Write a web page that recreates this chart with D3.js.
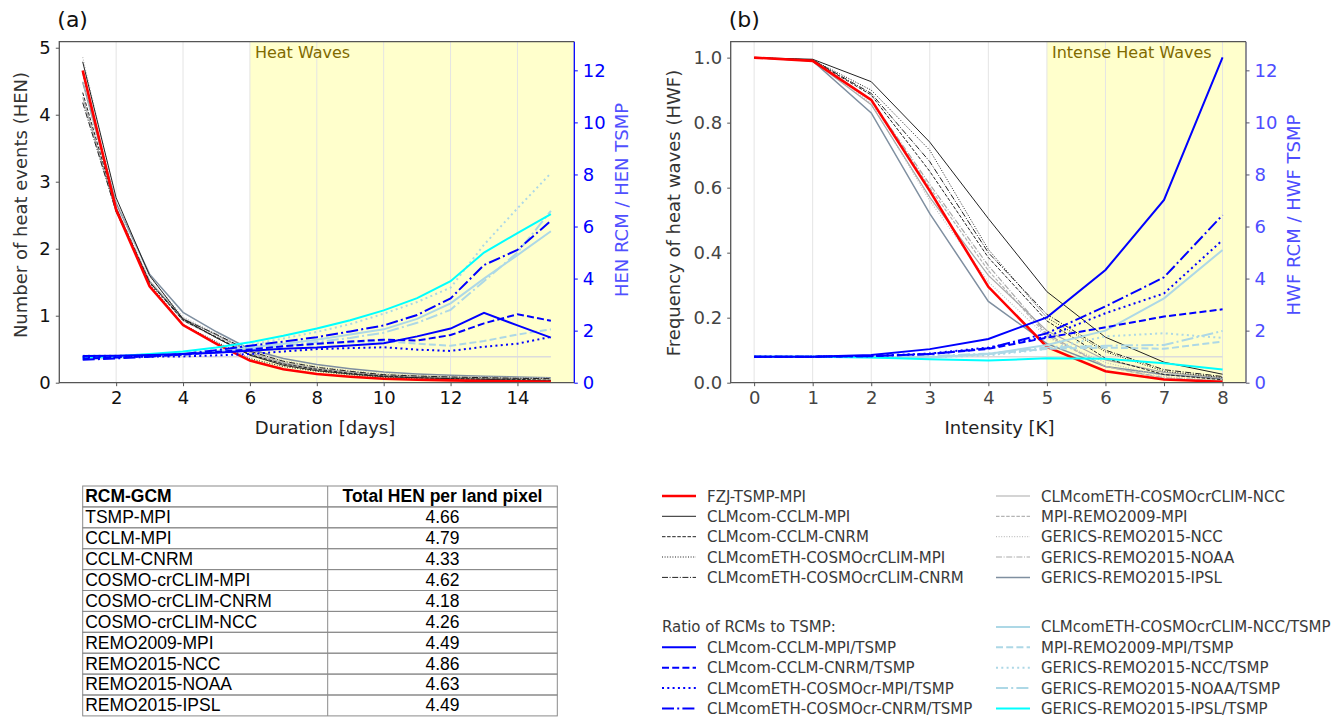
<!DOCTYPE html>
<html>
<head>
<meta charset="UTF-8">
<title>Heat events and heat waves: RCMs vs TSMP</title>
<script src="https://cdnjs.cloudflare.com/ajax/libs/d3/7.8.5/d3.min.js"></script>
<style>
  body { margin: 0; padding: 0; background: #fff; }
  svg text { font-family: "DejaVu Sans", sans-serif; }
  svg text.tbl { font-family: "Liberation Sans", Arial, sans-serif; }
</style>
</head>
<body>
<svg id="chart" width="1341" height="718"></svg>
<script>
// ---- data ----
const durations = [1, 2, 3, 4, 5, 6, 7, 8, 9, 10, 11, 12, 13, 14, 15];
const intensities = [0, 1, 2, 3, 4, 5, 6, 7, 8];

// (a) number of heat events per duration
const henTSMP      = [4.66, 2.58, 1.44, 0.86, 0.58, 0.33, 0.20, 0.13, 0.09, 0.06, 0.045, 0.035, 0.025, 0.02, 0.015];
const henCCLM_MPI  = [4.79, 2.76, 1.60, 0.95, 0.67, 0.41, 0.26, 0.18, 0.13, 0.09, 0.075, 0.06, 0.05, 0.04, 0.026];
const henCCLM_CNRM = [4.33, 2.60, 1.50, 0.93, 0.68, 0.42, 0.28, 0.20, 0.14, 0.10, 0.073, 0.062, 0.055, 0.05, 0.036];
const henCOSMO_MPI = [4.62, 2.62, 1.48, 0.87, 0.61, 0.36, 0.24, 0.17, 0.12, 0.08, 0.057, 0.043, 0.035, 0.03, 0.026];
const henCOSMO_CNRM= [4.18, 2.55, 1.50, 0.95, 0.72, 0.47, 0.32, 0.23, 0.17, 0.12, 0.10, 0.085, 0.075, 0.065, 0.06];
const henCOSMO_NCC = [4.26, 2.55, 1.52, 0.96, 0.71, 0.45, 0.30, 0.21, 0.16, 0.115, 0.095, 0.08, 0.07, 0.062, 0.055];
const henREMO09_MPI= [4.49, 2.58, 1.50, 0.93, 0.68, 0.42, 0.28, 0.19, 0.14, 0.096, 0.068, 0.05, 0.04, 0.037, 0.031];
const henREMO15_NCC= [4.86, 2.70, 1.58, 0.98, 0.73, 0.48, 0.33, 0.24, 0.18, 0.14, 0.11, 0.095, 0.085, 0.075, 0.07];
const henREMO15_NOAA=[4.63, 2.62, 1.52, 0.93, 0.67, 0.42, 0.28, 0.20, 0.15, 0.11, 0.09, 0.08, 0.07, 0.065, 0.06];
const henREMO15_IPSL=[4.49, 2.68, 1.62, 1.05, 0.76, 0.50, 0.36, 0.27, 0.21, 0.16, 0.13, 0.11, 0.095, 0.085, 0.075];

// (a) ratios RCM / TSMP
const henRatCCLM_MPI  = [1.03, 1.04, 1.06, 1.10, 1.15, 1.23, 1.30, 1.35, 1.43, 1.52, 1.78, 2.08, 2.68, 2.20, 1.73];
const henRatCCLM_CNRM = [0.93, 0.97, 1.02, 1.08, 1.18, 1.28, 1.40, 1.50, 1.58, 1.65, 1.62, 1.83, 2.28, 2.63, 2.38];
const henRatCOSMO_MPI = [0.99, 0.99, 1.00, 1.01, 1.05, 1.10, 1.20, 1.29, 1.33, 1.36, 1.27, 1.22, 1.38, 1.50, 1.76];
const henRatCOSMO_CNRM= [0.88, 0.93, 1.00, 1.10, 1.25, 1.42, 1.58, 1.75, 1.97, 2.20, 2.60, 3.24, 4.52, 5.10, 6.22];
const henRatCOSMO_NCC = [0.91, 0.96, 1.03, 1.12, 1.22, 1.35, 1.50, 1.65, 1.85, 2.05, 2.45, 3.05, 4.00, 4.90, 5.82];
const henRatREMO09_MPI= [0.96, 0.98, 1.02, 1.08, 1.18, 1.28, 1.38, 1.48, 1.55, 1.60, 1.50, 1.42, 1.60, 1.85, 2.05];
const henRatREMO15_NCC= [1.04, 1.05, 1.08, 1.14, 1.26, 1.45, 1.70, 1.95, 2.25, 2.65, 3.10, 3.65, 5.30, 6.70, 8.05];
const henRatREMO15_NOAA=[0.99, 1.00, 1.03, 1.08, 1.16, 1.28, 1.42, 1.56, 1.72, 1.92, 2.30, 2.80, 3.90, 5.00, 6.60];
const henRatREMO15_IPSL=[0.96, 1.02, 1.10, 1.20, 1.35, 1.55, 1.80, 2.08, 2.40, 2.78, 3.25, 3.90, 5.00, 5.75, 6.48];

// (b) frequency of heat waves per intensity
const hwfTSMP      = [1.0, 0.990, 0.870, 0.590, 0.295, 0.110, 0.035, 0.010, 0.003];
const hwfCCLM_MPI  = [1.0, 0.995, 0.926, 0.740, 0.505, 0.280, 0.140, 0.063, 0.026];
const hwfCCLM_CNRM = [1.0, 0.992, 0.885, 0.650, 0.385, 0.190, 0.075, 0.025, 0.009];
const hwfCOSMO_MPI = [1.0, 0.993, 0.900, 0.715, 0.410, 0.200, 0.095, 0.035, 0.016];
const hwfCOSMO_CNRM= [1.0, 0.993, 0.890, 0.680, 0.400, 0.210, 0.100, 0.040, 0.019];
const hwfCOSMO_NCC = [1.0, 0.990, 0.855, 0.570, 0.330, 0.160, 0.070, 0.032, 0.015];
const hwfREMO09_MPI= [1.0, 0.990, 0.870, 0.600, 0.345, 0.145, 0.050, 0.013, 0.005];
const hwfREMO15_NCC= [1.0, 0.990, 0.860, 0.560, 0.310, 0.140, 0.062, 0.019, 0.005];
const hwfREMO15_NOAA=[1.0, 0.990, 0.870, 0.610, 0.360, 0.150, 0.050, 0.015, 0.006];
const hwfREMO15_IPSL=[1.0, 0.990, 0.830, 0.520, 0.250, 0.120, 0.050, 0.025, 0.012];

// (b) ratios RCM / TSMP
const hwfRatCCLM_MPI  = [1.0, 1.0, 1.06, 1.29, 1.68, 2.51, 4.33, 7.02, 12.5];
const hwfRatCCLM_CNRM = [1.0, 1.0, 1.02, 1.10, 1.30, 1.73, 2.13, 2.54, 2.82];
const hwfRatCOSMO_MPI = [1.0, 1.0, 1.03, 1.12, 1.35, 1.77, 2.67, 3.43, 5.48];
const hwfRatCOSMO_CNRM= [1.0, 1.0, 1.02, 1.10, 1.32, 1.90, 2.93, 4.05, 6.44];
const hwfRatCOSMO_NCC = [1.0, 1.0, 0.98, 0.97, 1.10, 1.45, 2.00, 3.24, 5.10];
const hwfRatREMO09_MPI= [1.0, 1.0, 1.00, 1.00, 1.10, 1.30, 1.35, 1.30, 1.58];
const hwfRatREMO15_NCC= [1.0, 1.0, 0.99, 0.98, 1.05, 1.30, 1.78, 1.90, 1.72];
const hwfRatREMO15_NOAA=[1.0, 1.0, 1.00, 1.02, 1.12, 1.35, 1.42, 1.45, 1.99];
const hwfRatREMO15_IPSL=[1.0, 1.0, 0.97, 0.90, 0.85, 0.94, 0.92, 0.75, 0.51];

// table
const tableModels = ["TSMP-MPI", "CCLM-MPI", "CCLM-CNRM", "COSMO-crCLIM-MPI", "COSMO-crCLIM-CNRM",
  "COSMO-crCLIM-NCC", "REMO2009-MPI", "REMO2015-NCC", "REMO2015-NOAA", "REMO2015-IPSL"];
const tableTotals = ["4.66", "4.79", "4.33", "4.62", "4.18", "4.26", "4.49", "4.86", "4.63", "4.49"];

// legend labels
const modelLabels = ["FZJ-TSMP-MPI", "CLMcom-CCLM-MPI", "CLMcom-CCLM-CNRM", "CLMcomETH-COSMOcrCLIM-MPI",
  "CLMcomETH-COSMOcrCLIM-CNRM", "CLMcomETH-COSMOcrCLIM-NCC", "MPI-REMO2009-MPI", "GERICS-REMO2015-NCC",
  "GERICS-REMO2015-NOAA", "GERICS-REMO2015-IPSL"];
const ratioLabels = ["CLMcom-CCLM-MPI/TSMP", "CLMcom-CCLM-CNRM/TSMP", "CLMcomETH-COSMOcr-MPI/TSMP",
  "CLMcomETH-COSMOcr-CNRM/TSMP", "CLMcomETH-COSMOcrCLIM-NCC/TSMP", "MPI-REMO2009-MPI/TSMP",
  "GERICS-REMO2015-NCC/TSMP", "GERICS-REMO2015-NOAA/TSMP", "GERICS-REMO2015-IPSL/TSMP"];

// ---- styles ----
const modelStyles = [
  { color: "#ff0000", dash: null, width: 2.6 },
  { color: "#222222", dash: null, width: 1 },
  { color: "#222222", dash: "3.5,1.6", width: 1 },
  { color: "#222222", dash: "1,1.6", width: 1 },
  { color: "#222222", dash: "6,1.6,1,1.6", width: 1 },
  { color: "#a9a9a9", dash: null, width: 1.2 },
  { color: "#b4b4b4", dash: "3.5,1.6", width: 1.2 },
  { color: "#c0c0c0", dash: "1,1.6", width: 1.2 },
  { color: "#a9a9a9", dash: "6,1.6,1,1.6", width: 1.2 },
  { color: "#7f8fa0", dash: null, width: 1.5 }
];
const ratioStyles = [
  { color: "#0000ff", dash: null, width: 2 },
  { color: "#0000ff", dash: "7,3.2", width: 2 },
  { color: "#0000ff", dash: "2,3.3", width: 2 },
  { color: "#0000ff", dash: "12,3.2,2,3.2", width: 2 },
  { color: "#add8e6", dash: null, width: 2 },
  { color: "#add8e6", dash: "7,3.2", width: 2 },
  { color: "#add8e6", dash: "2,3.3", width: 2 },
  { color: "#add8e6", dash: "12,3.2,2,3.2", width: 2 },
  { color: "#00ffff", dash: null, width: 2 }
];

const svg = d3.select("#chart");

function panel(cfg) {
  const top = 41.7, bottom = 382.7;
  const x = d3.scaleLinear().domain(cfg.xDomain).range([cfg.left, cfg.right]);
  const y = d3.scaleLinear().domain(cfg.yDomain).range([bottom, top]);
  const y2 = d3.scaleLinear().domain([0, 13.1]).range([bottom, top]);
  const g = svg.append("g");

  // highlighted span
  g.append("rect")
    .attr("x", x(cfg.spanFrom)).attr("y", top)
    .attr("width", cfg.right - x(cfg.spanFrom)).attr("height", bottom - top)
    .attr("fill", "#ffffcc");

  // vertical grid
  g.selectAll(".grid").data(cfg.xTicks).enter().append("line")
    .attr("x1", d => x(d)).attr("x2", d => x(d))
    .attr("y1", top).attr("y2", bottom)
    .attr("stroke", "#e4e4e4").attr("stroke-width", 1);

  g.append("text")
    .attr("x", x(cfg.spanFrom) + 5).attr("y", 57.5)
    .attr("font-size", 16).attr("fill", "#7f6a00")
    .text(cfg.spanLabel);

  // ratio = 1 reference
  g.append("line")
    .attr("x1", x(cfg.xs[0])).attr("x2", x(cfg.xs[cfg.xs.length - 1]))
    .attr("y1", y2(1)).attr("y2", y2(1))
    .attr("stroke", "#dcdcdc").attr("stroke-width", 1.5);

  const line = d3.line().x((d, i) => x(cfg.xs[i])).y(d => y(d));
  const line2 = d3.line().x((d, i) => x(cfg.xs[i])).y(d => y2(d));

  // grey models first, then black, then red on top
  const order = [9, 8, 7, 6, 5, 4, 3, 2, 1, 0];
  order.forEach(i => {
    const s = modelStyles[i];
    g.append("path").attr("d", line(cfg.main[i]))
      .attr("fill", "none").attr("stroke", s.color).attr("stroke-width", s.width)
      .attr("stroke-dasharray", s.dash);
  });
  const rorder = [7, 6, 5, 4, 8, 3, 2, 1, 0];
  rorder.forEach(i => {
    const s = ratioStyles[i];
    g.append("path").attr("d", line2(cfg.ratio[i]))
      .attr("fill", "none").attr("stroke", s.color).attr("stroke-width", s.width)
      .attr("stroke-dasharray", s.dash);
  });

  // axes
  const ax = g.append("g").attr("transform", `translate(0,${bottom})`)
    .call(d3.axisBottom(x).tickValues(cfg.xTicks).tickSize(3.5).tickPadding(5).tickFormat(d3.format("d")));
  const ay = g.append("g").attr("transform", `translate(${cfg.left},0)`)
    .call(d3.axisLeft(y).tickValues(cfg.yTicks).tickSize(3.5).tickPadding(5).tickFormat(cfg.yFormat));
  const ay2 = g.append("g").attr("transform", `translate(${cfg.right},0)`)
    .call(d3.axisRight(y2).tickValues([0, 2, 4, 6, 8, 10, 12]).tickSize(3.5).tickPadding(5).tickFormat(d3.format("d")));
  [ax, ay, ay2].forEach(a => {
    a.select(".domain").remove();
    a.attr("font-family", null).attr("font-size", 18);
  });
  ax.selectAll("line").attr("stroke", "#555");
  ay.selectAll("line").attr("stroke", "#555");
  ax.selectAll("text").attr("fill", cfg.tickColor);
  ay.selectAll("text").attr("fill", cfg.tickColor);
  ay2.selectAll("line").attr("stroke", cfg.rightSpine);
  ay2.selectAll("text").attr("fill", cfg.rightTick);

  // spines
  g.append("path")
    .attr("d", `M${cfg.right},${top}H${cfg.left}V${bottom}H${cfg.right}`)
    .attr("fill", "none").attr("stroke", "#555").attr("stroke-width", 1.3);
  g.append("line")
    .attr("x1", cfg.right).attr("x2", cfg.right).attr("y1", top).attr("y2", bottom)
    .attr("stroke", cfg.rightSpine).attr("stroke-width", 1.3);

  // labels
  g.append("text").attr("x", cfg.left - 2).attr("y", 27).attr("font-size", 22).attr("fill", "#111")
    .text(cfg.tag);
  g.append("text").attr("text-anchor", "middle").attr("font-size", 18).attr("fill", "#333")
    .attr("transform", `translate(${cfg.yLabelX},${cfg.yLabelY}) rotate(-90)`)
    .text(cfg.yLabel);
  g.append("text").attr("text-anchor", "middle").attr("font-size", 18).attr("fill", cfg.rightLabelColor)
    .attr("transform", `translate(${cfg.y2LabelX},${cfg.y2LabelY}) rotate(-90)`)
    .text(cfg.y2Label);
  g.append("text").attr("text-anchor", "middle").attr("font-size", 18).attr("fill", "#222")
    .attr("x", cfg.xLabelX).attr("y", 434)
    .text(cfg.xLabel);
}

panel({
  tag: "(a)", left: 59.3, right: 574.3,
  xDomain: [0.3, 15.7], yDomain: [0, 5.09],
  xs: durations, xTicks: [2, 4, 6, 8, 10, 12, 14], yTicks: [0, 1, 2, 3, 4, 5],
  yFormat: d3.format("d"),
  spanFrom: 6, spanLabel: "Heat Waves",
  main: [henTSMP, henCCLM_MPI, henCCLM_CNRM, henCOSMO_MPI, henCOSMO_CNRM, henCOSMO_NCC,
         henREMO09_MPI, henREMO15_NCC, henREMO15_NOAA, henREMO15_IPSL],
  ratio: [henRatCCLM_MPI, henRatCCLM_CNRM, henRatCOSMO_MPI, henRatCOSMO_CNRM, henRatCOSMO_NCC,
          henRatREMO09_MPI, henRatREMO15_NCC, henRatREMO15_NOAA, henRatREMO15_IPSL],
  tickColor: "#111", rightSpine: "#0000ff", rightTick: "#0000ff", rightLabelColor: "#5050ff",
  yLabel: "Number of heat events (HEN)", yLabelX: 26.7, yLabelY: 205,
  y2Label: "HEN RCM / HEN TSMP", y2LabelX: 628, y2LabelY: 200,
  xLabel: "Duration [days]", xLabelX: 325
});

panel({
  tag: "(b)", left: 730.7, right: 1246,
  xDomain: [-0.4, 8.4], yDomain: [0, 1.049],
  xs: intensities, xTicks: [0, 1, 2, 3, 4, 5, 6, 7, 8], yTicks: [0, 0.2, 0.4, 0.6, 0.8, 1.0],
  yFormat: d3.format(".1f"),
  spanFrom: 5, spanLabel: "Intense Heat Waves",
  main: [hwfTSMP, hwfCCLM_MPI, hwfCCLM_CNRM, hwfCOSMO_MPI, hwfCOSMO_CNRM, hwfCOSMO_NCC,
         hwfREMO09_MPI, hwfREMO15_NCC, hwfREMO15_NOAA, hwfREMO15_IPSL],
  ratio: [hwfRatCCLM_MPI, hwfRatCCLM_CNRM, hwfRatCOSMO_MPI, hwfRatCOSMO_CNRM, hwfRatCOSMO_NCC,
          hwfRatREMO09_MPI, hwfRatREMO15_NCC, hwfRatREMO15_NOAA, hwfRatREMO15_IPSL],
  tickColor: "#444", rightSpine: "#55556a", rightTick: "#4d4dff", rightLabelColor: "#4d4dff",
  yLabel: "Frequency of heat waves (HWF)", yLabelX: 680, yLabelY: 213,
  y2Label: "HWF RCM / HWF TSMP", y2LabelX: 1300, y2LabelY: 215,
  xLabel: "Intensity [K]", xLabelX: 999.5
});

// ---- table ----
const tbl = svg.append("g").attr("font-size", 17.5);
const tLeft = 82.7, tRight = 557.3, tDiv = 327.7, tTop = 486, rowH = 20.9;
const rows = [["RCM-GCM", "Total HEN per land pixel"]].concat(tableModels.map((m, i) => [m, tableTotals[i]]));
rows.forEach((r, i) => {
  const yTop = tTop + i * rowH;
  tbl.append("rect").attr("x", tLeft).attr("y", yTop).attr("width", tRight - tLeft).attr("height", rowH)
    .attr("fill", "none").attr("stroke", "#8a8a8a").attr("stroke-width", 1);
  tbl.append("text").attr("class", "tbl").attr("x", tLeft + 2.5).attr("y", yTop + 16.3)
    .attr("font-weight", i === 0 ? "bold" : null)
    .text(r[0]);
  tbl.append("text").attr("class", "tbl").attr("x", (tDiv + tRight) / 2).attr("y", yTop + 16.3)
    .attr("text-anchor", "middle")
    .attr("font-weight", i === 0 ? "bold" : null)
    .text(r[1]);
});
tbl.append("line").attr("x1", tDiv).attr("x2", tDiv).attr("y1", tTop).attr("y2", tTop + rows.length * rowH)
  .attr("stroke", "#8a8a8a");

// ---- legends ----
const leg = svg.append("g").attr("font-size", 15).attr("fill", "#3a3a3a");
function legendEntry(x, y, label, s) {
  leg.append("line").attr("x1", x).attr("x2", x + 34).attr("y1", y).attr("y2", y)
    .attr("stroke", s.color).attr("stroke-width", s.width).attr("stroke-dasharray", s.dash);
  leg.append("text").attr("x", x + 45).attr("y", y + 5.5).text(label);
}
const topRows = [496, 516.3, 536.7, 557, 577.4];
modelLabels.forEach((lab, i) => {
  const col = i < 5 ? 662 : 996;
  legendEntry(col, topRows[i % 5], lab, modelStyles[i]);
});
const lowRows = [626.9, 647.3, 667.7, 688.1, 708.5];
leg.append("text").attr("x", 662).attr("y", lowRows[0] + 5.5).text("Ratio of RCMs to TSMP:");
ratioLabels.forEach((lab, i) => {
  if (i < 4) legendEntry(662, lowRows[i + 1], lab, ratioStyles[i]);
  else legendEntry(996, lowRows[i - 4], lab, ratioStyles[i]);
});
</script>
</body>
</html>
